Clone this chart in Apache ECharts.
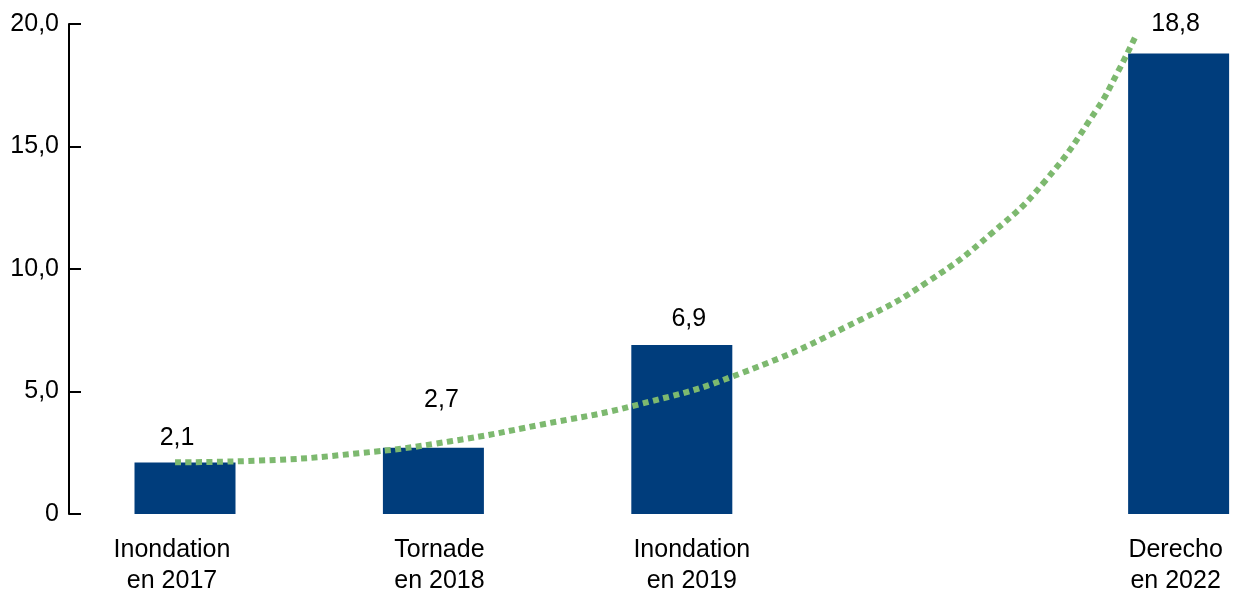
<!DOCTYPE html>
<html>
<head>
<meta charset="utf-8">
<script src="https://cdn.jsdelivr.net/npm/echarts@6/dist/echarts.min.js"></script>
<style>
  html, body { margin: 0; padding: 0; background: #fff; }
  #chart { width: 1237px; height: 597px; }
</style>
</head>
<body>
<div id="chart"></div>
<script>
// ---- data ----
const categories = ['Inondation\nen 2017', 'Tornade\nen 2018', 'Inondation\nen 2019', 'Derecho\nen 2022'];
const slots = [0, 1, 2, 4];
const values = [2.1, 2.7, 6.9, 18.8];
const trendX = [-0.04, 0.3, 0.7, 1.07, 1.43, 1.83, 2.24, 2.72, 2.99, 3.25, 3.46, 3.67, 3.75, 3.83];
const trendY = [2.11, 2.18, 2.48, 2.97, 3.64, 4.48, 5.75, 7.93, 9.48, 11.48, 13.56, 16.5, 17.94, 19.57];
const yTicks = [0, 5, 10, 15, 20];

// ---- styling ----
const FONT = "'Liberation Sans', Arial, sans-serif";
const FS = 25;
const labelDist = [12, 35, 13, 17];
const labelShift = [-8, 8, 7, -3];
const catShift = [-13, 6, 10, -3];
const fmt = v => v.toFixed(1).replace('.', ',');

const rich = {};
catShift.forEach((d, i) => {
  rich['c' + i] = {
    fontFamily: FONT, fontSize: FS, color: '#000', lineHeight: 31,
    padding: d >= 0 ? [0, 0, 0, 2 * d] : [0, -2 * d, 0, 0]
  };
});

const barData = values.map((v, i) => ({
  value: [slots[i], v],
  label: { distance: labelDist[i], offset: [labelShift[i], 0] }
}));
const trendData = trendX.map((x, i) => [x, trendY[i]]);

const chart = echarts.init(document.getElementById('chart'), null, { renderer: 'canvas' });
chart.setOption({
  animation: false,
  backgroundColor: '#ffffff',
  grid: { left: 69, right: 0, top: 24, bottom: 83, containLabel: false },
  xAxis: {
    type: 'value',
    min: -0.467,
    max: 4.235,
    splitLine: { show: false },
    axisLine: { show: false },
    axisTick: { show: false },
    axisLabel: {
      customValues: slots,
      formatter: v => {
        const i = slots.indexOf(Math.round(v));
        if (i < 0) return '';
        return categories[i].split('\n').map(s => '{c' + i + '|' + s + '}').join('\n');
      },
      rich: rich,
      fontFamily: FONT, fontSize: FS, color: '#000', lineHeight: 31, margin: 21
    }
  },
  yAxis: {
    type: 'value',
    min: yTicks[0],
    max: yTicks[yTicks.length - 1],
    interval: 5,
    splitLine: { show: false },
    axisLine: { show: true, onZero: false, lineStyle: { color: '#000', width: 2 } },
    axisTick: { show: true, inside: true, length: 12, lineStyle: { color: '#000', width: 2 } },
    axisLabel: {
      formatter: v => v === 0 ? '0' : fmt(v),
      fontFamily: FONT, fontSize: FS, color: '#000', margin: 10
    }
  },
  series: [
    {
      type: 'bar',
      data: barData,
      barWidth: 101,
      itemStyle: { color: '#003d7c' },
      label: {
        show: true, position: 'top',
        formatter: p => fmt(p.value[1]),
        fontFamily: FONT, fontSize: FS, color: '#000'
      },
      z: 2
    },
    {
      type: 'line',
      data: trendData,
      smooth: true,
      showSymbol: false,
      symbol: 'none',
      lineStyle: { color: '#7db96f', width: 6, type: [6, 4.5], cap: 'butt' },
      z: 5
    }
  ]
});
</script>
</body>
</html>
